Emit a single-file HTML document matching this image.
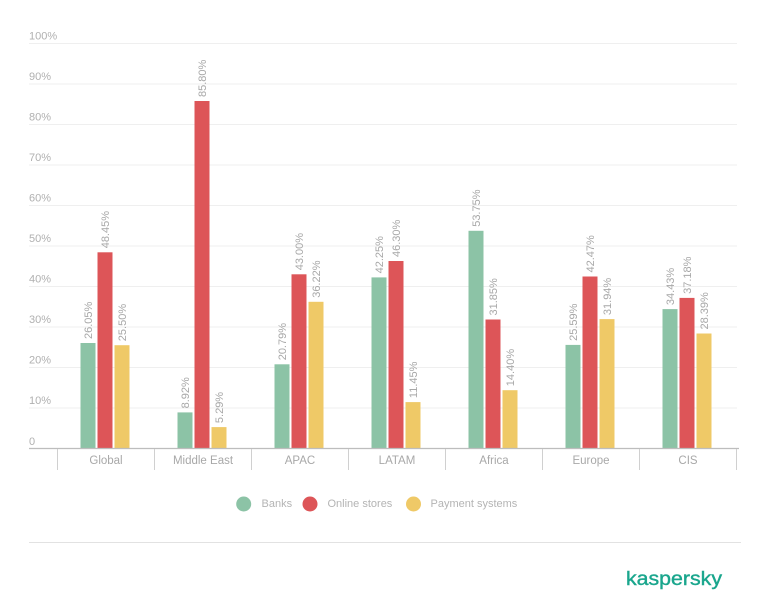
<!DOCTYPE html>
<html>
<head>
<meta charset="utf-8">
<style>
html,body{margin:0;padding:0;background:#fff;}
svg{display:block;}
text{font-family:"Liberation Sans",Arial,sans-serif;}
</style>
</head>
<body>
<svg width="768" height="594" viewBox="0 0 768 594" xmlns="http://www.w3.org/2000/svg">
<!-- gridlines -->
<g stroke="#efefef" stroke-width="1">
<line x1="29" x2="737" y1="43.5" y2="43.5"/>
<line x1="29" x2="737" y1="84" y2="84"/>
<line x1="29" x2="737" y1="124.5" y2="124.5"/>
<line x1="29" x2="737" y1="165" y2="165"/>
<line x1="29" x2="737" y1="205.5" y2="205.5"/>
<line x1="29" x2="737" y1="246" y2="246"/>
<line x1="29" x2="737" y1="286.5" y2="286.5"/>
<line x1="29" x2="737" y1="327" y2="327"/>
<line x1="29" x2="737" y1="367.5" y2="367.5"/>
<line x1="29" x2="737" y1="408" y2="408"/>
</g>
<!-- y labels -->
<g fill="#b0b0b0" font-size="11">
<text x="29" y="39.5">100%</text>
<text x="29" y="80">90%</text>
<text x="29" y="120.5">80%</text>
<text x="29" y="161">70%</text>
<text x="29" y="201.5">60%</text>
<text x="29" y="242">50%</text>
<text x="29" y="282.5">40%</text>
<text x="29" y="323">30%</text>
<text x="29" y="363.5">20%</text>
<text x="29" y="404">10%</text>
<text x="29" y="445">0</text>
</g>
<!-- bars -->
<g>
<rect x="80.5" y="343" width="15" height="105.5" fill="#8cc3a6"/>
<rect x="97.5" y="252.3" width="15" height="196.2" fill="#dd5558"/>
<rect x="114.5" y="345.2" width="15" height="103.3" fill="#efc967"/>
<rect x="177.5" y="412.4" width="15" height="36.1" fill="#8cc3a6"/>
<rect x="194.5" y="101" width="15" height="347.5" fill="#dd5558"/>
<rect x="211.5" y="427.1" width="15" height="21.4" fill="#efc967"/>
<rect x="274.5" y="364.3" width="15" height="84.2" fill="#8cc3a6"/>
<rect x="291.5" y="274.3" width="15" height="174.2" fill="#dd5558"/>
<rect x="308.5" y="301.8" width="15" height="146.7" fill="#efc967"/>
<rect x="371.5" y="277.4" width="15" height="171.1" fill="#8cc3a6"/>
<rect x="388.5" y="261" width="15" height="187.5" fill="#dd5558"/>
<rect x="405.5" y="402.1" width="15" height="46.4" fill="#efc967"/>
<rect x="468.5" y="230.8" width="15" height="217.7" fill="#8cc3a6"/>
<rect x="485.5" y="319.5" width="15" height="129" fill="#dd5558"/>
<rect x="502.5" y="390.2" width="15" height="58.3" fill="#efc967"/>
<rect x="565.5" y="344.9" width="15" height="103.6" fill="#8cc3a6"/>
<rect x="582.5" y="276.5" width="15" height="172" fill="#dd5558"/>
<rect x="599.5" y="319.1" width="15" height="129.4" fill="#efc967"/>
<rect x="662.5" y="309.1" width="15" height="139.4" fill="#8cc3a6"/>
<rect x="679.5" y="297.9" width="15" height="150.6" fill="#dd5558"/>
<rect x="696.5" y="333.5" width="15" height="115" fill="#efc967"/>
</g>
<!-- value labels -->
<g fill="#a8a8a8" font-size="11">
<text transform="translate(92,339) rotate(-90)">26.05%</text>
<text transform="translate(109,248.3) rotate(-90)">48.45%</text>
<text transform="translate(126,341.2) rotate(-90)">25.50%</text>
<text transform="translate(189,408.4) rotate(-90)">8.92%</text>
<text transform="translate(206,97) rotate(-90)">85.80%</text>
<text transform="translate(223,423.1) rotate(-90)">5.29%</text>
<text transform="translate(286,360.3) rotate(-90)">20.79%</text>
<text transform="translate(303,270.3) rotate(-90)">43.00%</text>
<text transform="translate(320,297.8) rotate(-90)">36.22%</text>
<text transform="translate(383,273.4) rotate(-90)">42.25%</text>
<text transform="translate(400,257) rotate(-90)">46.30%</text>
<text transform="translate(417,398.1) rotate(-90)">11.45%</text>
<text transform="translate(480,226.8) rotate(-90)">53.75%</text>
<text transform="translate(497,315.5) rotate(-90)">31.85%</text>
<text transform="translate(514,386.2) rotate(-90)">14.40%</text>
<text transform="translate(577,340.9) rotate(-90)">25.59%</text>
<text transform="translate(594,272.5) rotate(-90)">42.47%</text>
<text transform="translate(611,315.1) rotate(-90)">31.94%</text>
<text transform="translate(674,305.1) rotate(-90)">34.43%</text>
<text transform="translate(691,293.9) rotate(-90)">37.18%</text>
<text transform="translate(708,329.5) rotate(-90)">28.39%</text>
</g>
<!-- axis -->
<line x1="29" x2="739" y1="448.5" y2="448.5" stroke="#bdbdbd" stroke-width="1.2"/>
<g stroke="#d0d0d0" stroke-width="1">
<line x1="57.5" x2="57.5" y1="449" y2="470"/>
<line x1="154.5" x2="154.5" y1="449" y2="470"/>
<line x1="251.5" x2="251.5" y1="449" y2="470"/>
<line x1="348.5" x2="348.5" y1="449" y2="470"/>
<line x1="445.5" x2="445.5" y1="449" y2="470"/>
<line x1="542.5" x2="542.5" y1="449" y2="470"/>
<line x1="639.5" x2="639.5" y1="449" y2="470"/>
<line x1="736.5" x2="736.5" y1="449" y2="470"/>
</g>
<!-- category labels -->
<g fill="#a8a8a8" font-size="11.5" text-anchor="middle">
<text x="106" y="464">Global</text>
<text x="203" y="464">Middle East</text>
<text x="300" y="464">APAC</text>
<text x="397" y="464">LATAM</text>
<text x="494" y="464">Africa</text>
<text x="591" y="464">Europe</text>
<text x="688" y="464">CIS</text>
</g>
<!-- legend -->
<circle cx="243.7" cy="504" r="7.5" fill="#8cc3a6"/>
<circle cx="310" cy="504" r="7.5" fill="#dd5558"/>
<circle cx="413.5" cy="504" r="7.5" fill="#efc967"/>
<g fill="#b4b4b4" font-size="11">
<text x="261.5" y="507">Banks</text>
<text x="327.5" y="507">Online stores</text>
<text x="430.5" y="507">Payment systems</text>
</g>
<line x1="29" x2="741" y1="542.5" y2="542.5" stroke="#e2e2e2" stroke-width="1"/>
<!-- logo -->
<text x="626" y="585" fill="#1aa68d" font-size="19" stroke="#1aa68d" stroke-width="0.4" textLength="96" lengthAdjust="spacingAndGlyphs">kaspersky</text>
</svg>
</body>
</html>
